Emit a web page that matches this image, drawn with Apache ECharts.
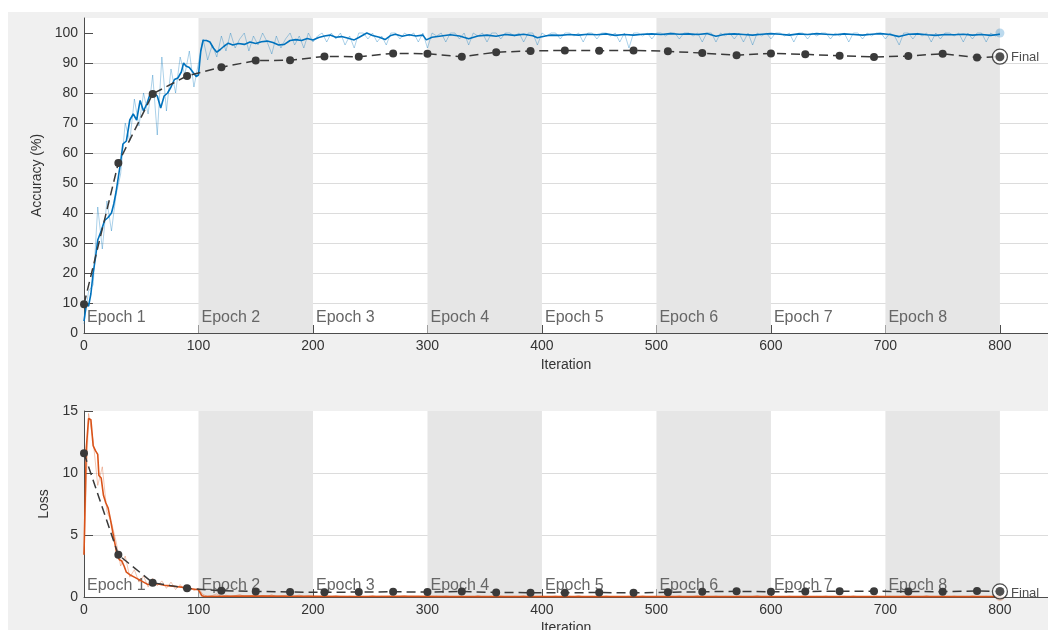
<!DOCTYPE html>
<html>
<head>
<meta charset="utf-8">
<script src="https://cdn.jsdelivr.net/npm/echarts@6/dist/echarts.min.js"></script>
<style>
  html, body { margin: 0; padding: 0; background: #ffffff; }
  #chart { width: 1048px; height: 630px; }
</style>
</head>
<body>
<div id="chart"></div>
<script>
// ---- training progress data ----
const epochLabels = ['Epoch 1', 'Epoch 2', 'Epoch 3', 'Epoch 4', 'Epoch 5', 'Epoch 6', 'Epoch 7', 'Epoch 8'];
const epochBounds = [0, 100, 200, 300, 400, 500, 600, 700, 800];
const xTicks = [0, 100, 200, 300, 400, 500, 600, 700, 800];
const accTicks = [0, 10, 20, 30, 40, 50, 60, 70, 80, 90, 100];
const lossTicks = [0, 5, 10, 15];

// mini-batch values are logged every 4 iterations
const rawStep = 4;

const accRaw = [
  3, 14, 16, 42, 28, 44, 34, 46, 53, 70, 64, 78, 69, 80, 73, 86, 66, 92, 74, 88, 80, 92, 86, 94, 82, 90,
  98, 91, 96, 92, 99, 94, 100, 95, 98, 100, 94, 99, 96, 100, 97, 93, 99, 95, 98, 100, 96, 99, 95, 100, 97,
  99, 100, 97, 100, 98, 100, 96, 99, 95, 100, 100, 98, 100, 97, 99, 96, 100, 100, 98, 100, 99, 100, 97, 100, 95,
  100, 99, 100, 97, 100, 100, 98, 100, 96, 100, 99, 100, 97, 100, 100, 98, 100, 100, 99, 100, 97, 100, 100, 96, 100,
  99, 100, 100, 98, 100, 100, 99, 100, 97, 100, 100, 98, 100, 100, 99, 100, 97, 100, 95, 100, 100, 99, 100, 98, 100,
  100, 99, 100, 100, 98, 100, 100, 99, 100, 97, 100, 100, 97, 100, 99, 100, 98, 100, 97, 100, 96, 100, 99, 100, 98,
  100, 100, 99, 100, 97, 100, 100, 98, 100, 99, 100, 100, 98, 100, 99, 100, 97, 100, 100, 98, 100, 99, 100, 100, 98,
  100, 99, 96, 100, 100, 98, 100, 99, 100, 97, 100, 98, 100, 100, 99, 100, 97, 100, 98, 100, 100, 97, 100, 99, 100
];

const accSmooth = [
  [0, 4], [2, 9.5], [4, 9], [6, 13], [8, 20], [10, 25], [12, 31], [15, 34], [18, 37.5], [21, 38.5],
  [24, 40], [26, 43], [28, 47], [30, 52], [32, 57], [34, 63], [37, 64], [40, 71], [43, 73], [46, 71],
  [49, 77.5], [52, 74], [55, 76.5], [58, 80], [61, 80], [64, 79], [67, 75], [70, 79], [73, 80], [76, 82],
  [79, 84.5], [82, 85], [85, 87], [87, 90], [89, 89], [92, 88.5], [95, 87], [98, 85.5], [100, 86], [102, 94],
  [104, 97.5], [107, 97.5], [110, 97], [113, 95], [116, 93.6], [119, 94.5], [122, 95.5], [126, 96.6], [130, 96], [135, 96.5],
  [140, 96.2], [145, 97], [150, 96.5], [155, 97.1], [160, 97.3], [165, 96.8], [170, 96], [175, 96.2], [180, 97.5], [185, 97.8],
  [190, 97.5], [195, 98.2], [200, 97.7], [205, 98.5], [210, 99], [215, 99.3], [220, 98.6], [225, 98.8], [230, 98.3], [236, 97.7],
  [240, 98.5], [247, 100], [252, 99.2], [258, 98.6], [263, 97.8], [268, 99.2], [272, 99.6], [278, 98.9], [284, 99.4], [290, 99],
  [296, 99.3], [299, 97.7], [304, 98.6], [312, 99.0], [320, 99.4], [328, 99.0], [336, 98.1], [344, 99.0], [352, 99.3], [360, 98.9],
  [368, 99.5], [376, 99.2], [384, 99.6], [392, 99.1], [396, 98.4], [404, 99.1], [408, 99.3], [416, 99.2], [424, 99.5], [432, 99.3],
  [440, 99.6], [448, 99.4], [456, 99.7], [464, 99.2], [472, 99.5], [480, 99.3], [488, 99.6], [496, 99.7], [504, 99.5], [512, 99.8],
  [520, 99.6], [528, 99.7], [536, 99.5], [544, 99.8], [552, 98.9], [560, 99.6], [568, 99.7], [576, 99.5], [584, 99.3], [592, 99.6],
  [600, 99.8], [608, 99.6], [616, 99.3], [624, 99.7], [632, 99.5], [640, 99.8], [648, 99.6], [656, 99.4], [664, 99.7], [672, 99.5],
  [680, 99.3], [688, 99.6], [696, 99.8], [704, 99.5], [712, 98.8], [720, 99.6], [728, 99.7], [736, 99.4], [744, 99.2], [752, 99.5],
  [760, 99.4], [768, 99.6], [776, 99.3], [784, 99.5], [792, 99.2], [800, 99.6]
];

const valIter = [0, 30, 60, 90, 120, 150, 180, 210, 240, 270, 300, 330, 360, 390, 420, 450, 480, 510, 540, 570, 600, 630, 660, 690, 720, 750, 780, 800];
const valAcc = [9.6, 56.7, 79.7, 85.7, 88.6, 90.8, 90.9, 92.2, 92.1, 93.2, 93.1, 92.1, 93.6, 94.0, 94.2, 94.1, 94.2, 93.9, 93.3, 92.6, 93.2, 92.9, 92.4, 92.0, 92.3, 93.1, 91.8, 92.1];

const lossRaw = [
  3.4, 14.8, 12.6, 9.0, 10.5, 6.9, 6.0, 4.5, 2.5, 3.3, 1.6, 2.2, 1.2, 1.7, 0.8, 1.5, 0.9, 1.3, 0.7, 1.2, 0.6, 1.0, 0.5, 0.9, 0.5, 0.7,
  0.2, 0.05, 0.12, 0.25, 0.04, 0.15, 0.03, 0.1, 0.2, 0.05, 0.08, 0.14, 0.03, 0.11, 0.06, 0.18, 0.02, 0.09, 0.13, 0.03, 0.07, 0.16, 0.04, 0.1, 0.05,
  0.04, 0.01, 0.08, 0.02, 0.11, 0.03, 0.01, 0.06, 0.02, 0.09, 0.01, 0.03, 0.12, 0.02, 0.05, 0.01, 0.07, 0.02, 0.04, 0.1, 0.01, 0.03, 0.06, 0.02, 0.13,
  0.02, 0.05, 0.01, 0.09, 0.03, 0.01, 0.07, 0.02, 0.04, 0.01, 0.11, 0.02, 0.03, 0.06, 0.01, 0.08, 0.02, 0.01, 0.05, 0.03, 0.1, 0.01, 0.04, 0.02, 0.07,
  0.01, 0.03, 0.08, 0.02, 0.01, 0.06, 0.02, 0.12, 0.01, 0.03, 0.05, 0.01, 0.02, 0.09, 0.03, 0.01, 0.04, 0.02, 0.07, 0.01, 0.03, 0.1, 0.02, 0.01, 0.05,
  0.03, 0.01, 0.06, 0.02, 0.09, 0.01, 0.02, 0.04, 0.11, 0.01, 0.03, 0.02, 0.07, 0.01, 0.05, 0.02, 0.01, 0.08, 0.03, 0.01, 0.04, 0.12, 0.02, 0.01, 0.06,
  0.02, 0.04, 0.01, 0.07, 0.02, 0.01, 0.1, 0.03, 0.01, 0.05, 0.02, 0.08, 0.01, 0.03, 0.02, 0.06, 0.01, 0.09, 0.02, 0.04, 0.01, 0.03, 0.07, 0.02, 0.01,
  0.05, 0.02, 0.01, 0.08, 0.03, 0.01, 0.04, 0.02, 0.11, 0.01, 0.03, 0.06, 0.02, 0.01, 0.07, 0.02, 0.04, 0.01, 0.09, 0.03, 0.01, 0.05, 0.02, 0.06, 0.03
];

const lossSmooth = [
  [0, 3.4], [2, 12], [4, 14.4], [6, 14.3], [8, 12.2], [10, 11.8], [12, 11.5], [13, 9.8], [15, 9.6], [16, 9.5],
  [17, 8.2], [19, 7.6], [21, 7.2], [23, 6.3], [25, 5.3], [27, 4.3], [29, 3.3], [31, 3.0], [33, 2.9], [35, 2.5],
  [37, 2.0], [40, 1.8], [44, 1.6], [48, 1.4], [52, 1.2], [56, 1.0], [60, 1.1], [65, 1.05], [70, 0.95], [75, 0.9],
  [80, 0.85], [85, 0.8], [90, 0.72], [95, 0.65], [100, 0.58], [103, 0.1], [105, 0.04], [120, 0.06], [140, 0.08], [160, 0.07],
  [180, 0.06], [200, 0.05], [240, 0.04], [280, 0.05], [320, 0.03], [360, 0.04], [400, 0.03], [440, 0.04], [480, 0.03], [520, 0.03],
  [560, 0.04], [600, 0.03], [640, 0.03], [680, 0.04], [720, 0.03], [760, 0.03], [800, 0.03]
];

const valLoss = [11.6, 3.4, 1.15, 0.7, 0.5, 0.45, 0.4, 0.38, 0.4, 0.42, 0.4, 0.44, 0.36, 0.35, 0.34, 0.36, 0.34, 0.38, 0.42, 0.46, 0.42, 0.44, 0.47, 0.46, 0.44, 0.43, 0.48, 0.45];

// ---- styling ----
const FONT = 'Liberation Sans, Arial, Helvetica, sans-serif';
const AXIS_COLOR = '#4d4d4d';
const TEXT_COLOR = '#333333';
const GRID_COLOR = '#dcdcdc';
const BAND_COLOR = '#e6e6e6';
const BLUE = '#0072BD';
const BLUE_LIGHT = 'rgba(0,114,189,0.33)';
const ORANGE = '#D95319';
const ORANGE_LIGHT = 'rgba(217,83,25,0.33)';
const VAL_COLOR = '#3a3a3a';

const chart = echarts.init(document.getElementById('chart'), null, { renderer: 'canvas' });

function xAxisFor(gridIndex, nameGap) {
  return {
    type: 'value', gridIndex, min: 0, max: 842, interval: 100,
    axisLine: { show: true, onZero: false, lineStyle: { color: AXIS_COLOR, width: 1 } },
    axisTick: { show: true, inside: true, length: 8, customValues: xTicks, lineStyle: { color: AXIS_COLOR } },
    axisLabel: { customValues: xTicks, color: TEXT_COLOR, fontSize: 14, fontFamily: FONT, margin: 6 },
    splitLine: { show: false },
    name: 'Iteration', nameLocation: 'middle', nameGap,
    nameTextStyle: { color: TEXT_COLOR, fontSize: 14, fontFamily: FONT }
  };
}

function yAxisFor(gridIndex, max, ticks, name, nameGap) {
  return {
    type: 'value', gridIndex, min: 0, max, interval: ticks[1] - ticks[0],
    axisLine: { show: true, onZero: false, lineStyle: { color: AXIS_COLOR, width: 1 } },
    axisTick: { show: true, inside: true, length: 9, customValues: ticks, lineStyle: { color: AXIS_COLOR } },
    axisLabel: { customValues: ticks, color: TEXT_COLOR, fontSize: 14, fontFamily: FONT, margin: 6 },
    splitLine: { show: true, showMinLine: false, showMaxLine: false, lineStyle: { color: GRID_COLOR, width: 1 } },
    name, nameLocation: 'middle', nameGap, nameRotate: 90,
    nameTextStyle: { color: TEXT_COLOR, fontSize: 14, fontFamily: FONT }
  };
}

function epochBands(gridIndex, labelOffsetY) {
  return {
    type: 'line', xAxisIndex: gridIndex, yAxisIndex: gridIndex, data: [], z: 1,
    silent: true, showSymbol: false,
    markArea: {
      silent: true,
      label: {
        show: true, position: 'insideBottomLeft', distance: 0, offset: [3, labelOffsetY],
        color: '#666666', fontSize: 16, fontFamily: FONT
      },
      data: epochLabels.map((lab, i) => [
        { xAxis: epochBounds[i], name: lab, itemStyle: { color: i % 2 ? BAND_COLOR : 'rgba(0,0,0,0)' } },
        { xAxis: epochBounds[i + 1] }
      ])
    }
  };
}

function lineSeries(gridIndex, data, color, width, z) {
  return {
    type: 'line', xAxisIndex: gridIndex, yAxisIndex: gridIndex, data, z,
    showSymbol: false, symbol: 'none', silent: true, animation: false,
    lineStyle: { color, width }
  };
}

function validationSeries(gridIndex, values) {
  return {
    type: 'line', xAxisIndex: gridIndex, yAxisIndex: gridIndex, z: 4,
    data: valIter.map((it, i) => [it, values[i]]),
    symbol: 'circle', symbolSize: 8, showSymbol: true, showAllSymbol: true,
    itemStyle: { color: VAL_COLOR }, silent: true, animation: false,
    lineStyle: { color: VAL_COLOR, width: 1.5, type: [9, 5] }
  };
}

function finalMarker(gridIndex, values, labelDy) {
  const last = [valIter[valIter.length - 1], values[values.length - 1]];
  return [
    {
      type: 'scatter', xAxisIndex: gridIndex, yAxisIndex: gridIndex, z: 5, silent: true, animation: false,
      data: [last], symbol: 'circle', symbolSize: 15,
      itemStyle: { color: '#ffffff', borderColor: '#222222', borderWidth: 1.3 },
      label: { show: true, formatter: 'Final', position: 'right', distance: 3, offset: [0, labelDy],
               color: '#222222', fontSize: 13, fontFamily: FONT }
    },
    {
      type: 'scatter', xAxisIndex: gridIndex, yAxisIndex: gridIndex, z: 6, silent: true, animation: false,
      data: [last], symbol: 'circle', symbolSize: 9, itemStyle: { color: '#2e2e2e' }
    }
  ];
}

function lastRawDot(gridIndex, values, color) {
  return {
    type: 'scatter', xAxisIndex: gridIndex, yAxisIndex: gridIndex, z: 2, silent: true, animation: false,
    data: [[(values.length - 1) * rawStep, values[values.length - 1]]],
    symbol: 'circle', symbolSize: 9, itemStyle: { color }
  };
}

const accRawPts = accRaw.map((v, i) => [i * rawStep, v]);
const lossRawPts = lossRaw.map((v, i) => [i * rawStep, v]);

const option = {
  backgroundColor: '#ffffff',
  animation: false,
  textStyle: { fontFamily: FONT },
  graphic: [
    { type: 'rect', z: -10, silent: true, shape: { x: 8, y: 12, width: 1040, height: 618 }, style: { fill: '#f0f0f0' } }
  ],
  grid: [
    { left: 84, top: 18, right: 0, height: 315, show: true, backgroundColor: '#ffffff', borderWidth: 0, outerBoundsMode: 'none' },
    { left: 84, top: 411, right: 0, height: 186, show: true, backgroundColor: '#ffffff', borderWidth: 0, outerBoundsMode: 'none' }
  ],
  xAxis: [xAxisFor(0, 25), xAxisFor(1, 24)],
  yAxis: [
    yAxisFor(0, 105, accTicks, 'Accuracy (%)', 36),
    yAxisFor(1, 15, lossTicks, 'Loss', 27)
  ],
  series: [
    epochBands(0, -7),
    lineSeries(0, accRawPts, BLUE_LIGHT, 1, 2),
    lastRawDot(0, accRaw, BLUE_LIGHT),
    lineSeries(0, accSmooth, BLUE, 1.6, 3),
    validationSeries(0, valAcc),
    ...finalMarker(0, valAcc, 1),

    epochBands(1, -3),
    lineSeries(1, lossRawPts, ORANGE_LIGHT, 1, 2),
    lastRawDot(1, lossRaw, ORANGE_LIGHT),
    lineSeries(1, lossSmooth, ORANGE, 1.6, 3),
    validationSeries(1, valLoss),
    ...finalMarker(1, valLoss, 2)
  ]
};

chart.setOption(option);
</script>
</body>
</html>
